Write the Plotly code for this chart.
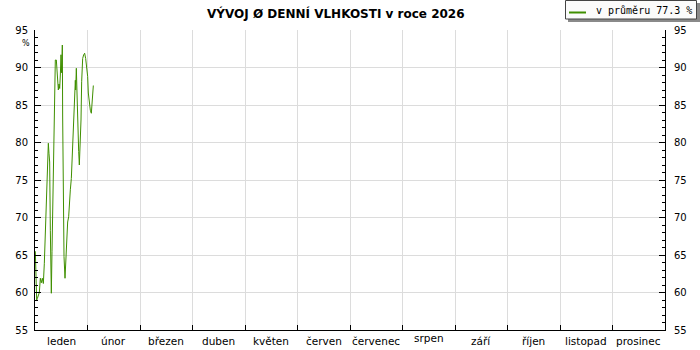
import plotly.graph_objects as go

# ---- data ----
months = ["leden", "únor", "březen", "duben", "květen", "červen",
          "červenec", "srpen", "září", "říjen", "listopad", "prosinec"]
month_days = [31, 28, 31, 30, 31, 30, 31, 31, 30, 31, 30, 31]

days = [0.2, 0.59, 0.98, 1.38, 1.97, 2.56, 3.15, 3.74, 4.33, 4.92,
        5.51, 6.1, 6.69, 7.28, 7.87, 8.27, 8.66, 9.05, 9.64, 10.04,
        10.24, 10.83, 11.42, 12.0, 12.6, 13.19, 13.78, 14.17, 14.57, 14.96,
        15.35, 15.75, 16.14, 16.34, 16.73, 17.13, 17.72, 18.11, 18.7, 19.29,
        19.88, 20.28, 20.87, 21.46, 22.05, 22.64, 23.23, 23.82, 24.02, 24.41,
        24.8, 25.2, 25.79, 26.18, 26.57, 27.16, 27.56, 28.15, 28.74, 29.33,
        29.92, 30.51, 31.09, 31.44, 31.98, 32.51, 33.04, 33.58, 34.11]
humidity = [65.5, 62.0, 59.0, 59.2, 59.6, 60.0, 61.9, 61.3, 61.9, 61.2,
            63.9, 67.9, 72.3, 77.4, 79.9, 78.5, 77.4, 68.3, 59.9, 65.5,
            68.0, 75.9, 85.9, 91.0, 91.0, 89.3, 87.0, 87.8, 87.2, 89.0,
            91.7, 89.3, 93.0, 83.4, 71.0, 64.8, 61.9, 63.9, 67.2, 69.4,
            70.1, 72.1, 73.7, 75.2, 78.1, 81.9, 85.4, 88.3, 87.0, 89.9,
            86.6, 81.7, 78.8, 77.0, 79.2, 83.0, 88.1, 91.2, 91.7, 91.9,
            91.2, 90.3, 88.8, 86.6, 84.8, 84.3, 83.9, 85.9, 87.6]
average = 77.3
year = 2026
y_min, y_max = 55, 95

# convert day-of-year to position on an axis where every month has equal width
def month_pos(d):
    acc = 0
    for i, md in enumerate(month_days):
        if d < acc + md:
            return i + (d - acc) / md
        acc += md
    return 12.0

xpos = [month_pos(d) for d in days]

GREEN = "#3f8f00"
GRID = "#dcdcdc"
FONT = "DejaVu Sans"

W, H = 700, 350
L, R, T, B = 35, 35, 30, 20
PW, PH = W - L - R, H - T - B

def px(x):
    return (x - L) / PW

def py(y):
    return (H - B - y) / PH

fig = go.Figure()
fig.add_trace(go.Scatter(x=xpos, y=humidity, mode="lines",
                         line=dict(color=GREEN, width=1),
                         name=f"v průměru {average} %", showlegend=False,
                         hoverinfo="skip"))
# invisible trace to activate the right axis
fig.add_trace(go.Scatter(x=[0], y=[y_min], yaxis="y2", mode="markers",
                         marker=dict(opacity=0), showlegend=False,
                         hoverinfo="skip"))

axis_common = dict(range=[y_min, y_max], dtick=5, tick0=55,
                   ticks="inside", ticklen=6, tickcolor="black",
                   showline=True, linecolor="black", linewidth=1,
                   zeroline=False,
                   tickfont=dict(family=FONT, size=10, color="black"),
                   minor=dict(ticks="inside", ticklen=3, dtick=1,
                              tickcolor="black", showgrid=False))

fig.update_layout(
    width=W, height=H,
    margin=dict(l=L, r=R, t=T, b=B, pad=0),
    paper_bgcolor="white", plot_bgcolor="white",
    showlegend=False,
    xaxis=dict(range=[0, 12], tickvals=list(range(13)),
               ticktext=[""] * 13, ticks="inside", ticklen=5,
               tickcolor="black", showgrid=True, gridcolor=GRID,
               gridwidth=1, showline=True, linecolor="black",
               zeroline=False, fixedrange=True),
    yaxis=dict(**axis_common, showgrid=True, gridcolor=GRID,
               ticklabelstandoff=4),
    yaxis2=dict(**axis_common, overlaying="y", side="right",
                showgrid=False, ticklabelstandoff=6),
)

annotations = []
# month labels
for i, m in enumerate(months):
    annotations.append(dict(x=i + 0.5, xref="x", y=py(341), yref="paper",
                            text=m, showarrow=False, xanchor="center",
                            yanchor="middle",
                            yshift=3 if m == "srpen" else 0,
                            font=dict(family=FONT, size=10.5, color="black")))
# title
annotations.append(dict(x=px(336), xref="paper", y=py(13), yref="paper",
                        text=f"<b>VÝVOJ Ø DENNÍ VLHKOSTI v roce {year}</b>",
                        showarrow=False, xanchor="center", yanchor="middle",
                        font=dict(family=FONT, size=12, color="black")))
# percent unit
annotations.append(dict(x=px(26), xref="paper", y=py(43), yref="paper",
                        text="%", showarrow=False, xanchor="center",
                        yanchor="middle",
                        font=dict(family=FONT, size=8, color="black")))
# legend text
annotations.append(dict(x=px(594), xref="paper", y=py(10.5), yref="paper",
                        text=f"v průměru {average} %", showarrow=False,
                        xanchor="left", yanchor="middle",
                        font=dict(family="DejaVu Sans Mono", size=10,
                                  color="black")))

shapes = [
    # legend shadow
    dict(type="rect", xref="paper", yref="paper",
         x0=px(568), x1=px(700), y0=py(22), y1=py(3),
         fillcolor="#8a8a8a", line=dict(width=0), layer="above"),
    # legend box
    dict(type="rect", xref="paper", yref="paper",
         x0=px(565.5), x1=px(696.5), y0=py(19), y1=py(0.5),
         fillcolor="#fbfbfb", line=dict(color="#444444", width=1),
         layer="above"),
    # legend line sample
    dict(type="line", xref="paper", yref="paper",
         x0=px(569), x1=px(586), y0=py(12.5), y1=py(12.5),
         line=dict(color=GREEN, width=2), layer="above"),
]

fig.update_layout(annotations=annotations, shapes=shapes)
fig.write_html("out.html", config={"displayModeBar": False})
